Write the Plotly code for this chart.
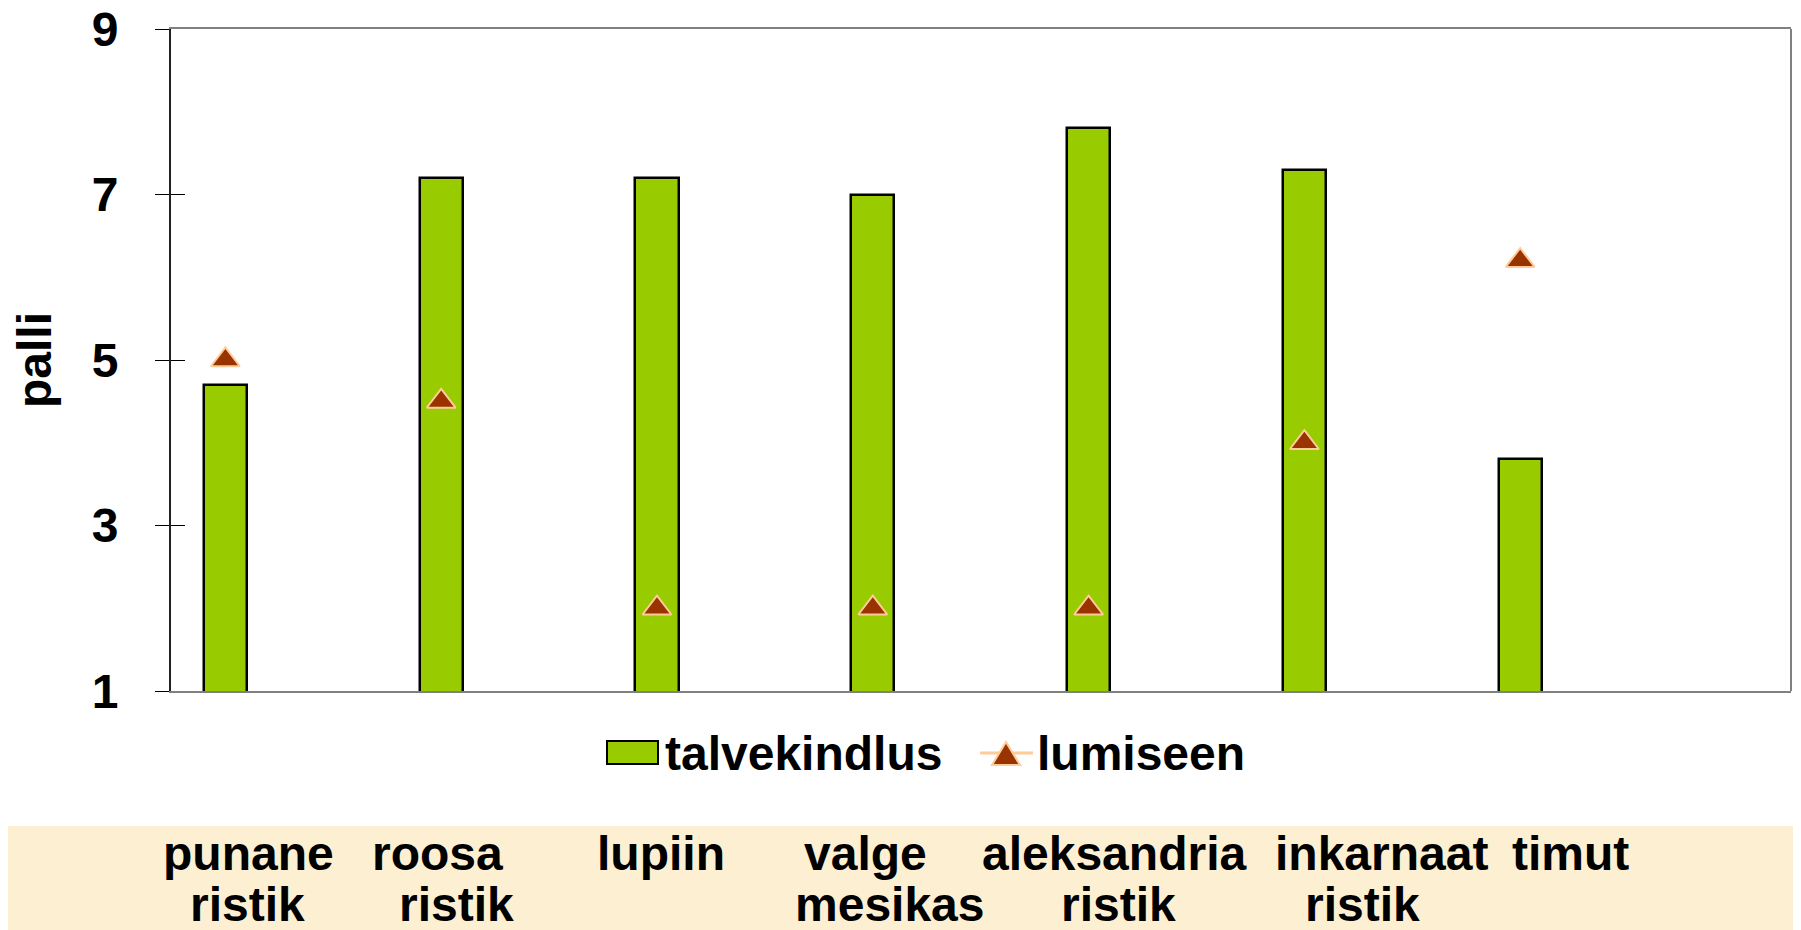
import plotly.graph_objects as go

# Values
categories = ["punane ristik", "roosa ristik", "lupiin", "valge mesikas",
              "aleksandria ristik", "inkarnaat ristik", "timut", ""]
talvekindlus = [4.7, 7.2, 7.2, 7.0, 7.8, 7.3, 3.8, 0.95]
lumiseen = [5.0, 4.5, 2.0, 2.0, 2.0, 4.0, 6.2, None]
y_ticks = [1, 3, 5, 7, 9]
series_names = ["talvekindlus", "lumiseen"]

# page geometry (pixels) - used only to place the label band / legend
W, H = 1801, 930
OFF = 8  # the page body margin shifts the figure by this much
L, R, T, B = 171, 10, 29, 239
PW, PH = W - L - R, H - T - B


def px(x):
    return (x - L) / PW


def py(y):
    return (H - B - y) / PH


FONT = "Arial, 'Liberation Sans', sans-serif"
GREEN = "#99CC00"
BROWN = "#993300"
PEACH = "#FFCC99"

x_idx = list(range(len(categories)))

fig = go.Figure()
fig.add_trace(go.Bar(
    x=x_idx, y=talvekindlus, name=series_names[0], width=0.2,
    marker=dict(color=GREEN, line=dict(color="black", width=2.5)),
    showlegend=False,
))
fig.add_trace(go.Scatter(
    x=x_idx, y=lumiseen, name=series_names[1], mode="markers", yaxis="y2",
    marker=dict(symbol="triangle-up", size=25, color=BROWN,
                line=dict(color=PEACH, width=2)),
    showlegend=False,
))

# category labels in the beige band (two lines, words placed like the original text box)
line1_x = [248, 437, 661, 865, 1114, 1381, 1570]
line2_x = [247, 456, None, 890, 1118, 1362, None]
annotations = []
for i, name in enumerate(categories):
    if not name:
        continue
    words = name.split(" ")
    annotations.append(dict(x=px(line1_x[i]), y=py(853), text="<b>%s</b>" % words[0]))
    if len(words) > 1:
        annotations.append(dict(x=px(line2_x[i]), y=py(905), text="<b>%s</b>" % words[1]))
for a in annotations:
    a.update(xref="paper", yref="paper", xanchor="center", yanchor="middle",
             showarrow=False, font=dict(size=48, color="black", family=FONT))

# custom legend
annotations.append(dict(x=px(663), y=py(753), xref="paper", yref="paper", xanchor="left",
                        yanchor="middle", showarrow=False, text="<b>%s</b>" % series_names[0],
                        font=dict(size=48, color="black", family=FONT)))
annotations.append(dict(x=px(1035), y=py(753), xref="paper", yref="paper", xanchor="left",
                        yanchor="middle", showarrow=False, text="<b>%s</b>" % series_names[1],
                        font=dict(size=48, color="black", family=FONT)))

shapes = [
    # beige label band
    dict(type="rect", xref="paper", yref="paper", x0=px(0), x1=px(W + 20), y0=py(H + 20), y1=py(826),
         fillcolor="#FDEFD2", line=dict(width=0), layer="below"),
    # right frame
    dict(type="line", xref="paper", yref="paper", x0=1, x1=1, y0=0, y1=1,
         line=dict(color="#808080", width=2)),
    # legend swatches
    dict(type="rect", xref="paper", yref="paper", x0=px(607), x1=px(658), y0=py(764), y1=py(741),
         fillcolor=GREEN, line=dict(color="black", width=2)),
    dict(type="line", xref="paper", yref="paper", x0=px(980), x1=px(1033), y0=py(753), y1=py(753),
         line=dict(color=PEACH, width=3)),
    dict(type="path", xref="paper", yref="paper",
         path="M%f,%f L%f,%f L%f,%f Z" % (px(992), py(765), px(1020), py(765), px(1006), py(742)),
         fillcolor=BROWN, line=dict(color=PEACH, width=2)),
]

fig.update_layout(
    width=W - OFF, height=H - OFF,
    margin=dict(l=L - OFF, r=R, t=T - OFF, b=B),
    paper_bgcolor="white", plot_bgcolor="white",
    font=dict(family=FONT, color="black"),
    showlegend=False,
    bargap=0,
    xaxis=dict(range=[-0.252, 7.255], showticklabels=False, ticks="", showgrid=False,
               zeroline=False, showline=True, linecolor="#808080", linewidth=2, mirror=True,
               automargin=False),
    yaxis=dict(range=[1, 9], tickvals=y_ticks, ticks="outside", ticklen=14, tickwidth=1,
               tickcolor="black", showline=True, linecolor="#222222", linewidth=2,
               showgrid=False, zeroline=False, ticklabelstandoff=27, automargin=False,
               ticklabeloverflow="allow",
               tickfont=dict(size=48, weight="bold", family=FONT, color="black"),
               title=dict(text="<b>palli</b>", font=dict(size=48, family=FONT, color="black"),
                          standoff=30)),
    yaxis2=dict(range=[1, 9], overlaying="y", side="left", tickvals=y_ticks, ticks="inside",
                ticklen=14, tickwidth=1, tickcolor="black", showticklabels=False,
                showline=False, showgrid=False, zeroline=False, automargin=False),
    shapes=shapes,
    annotations=annotations,
)

fig.write_html("out.html")
